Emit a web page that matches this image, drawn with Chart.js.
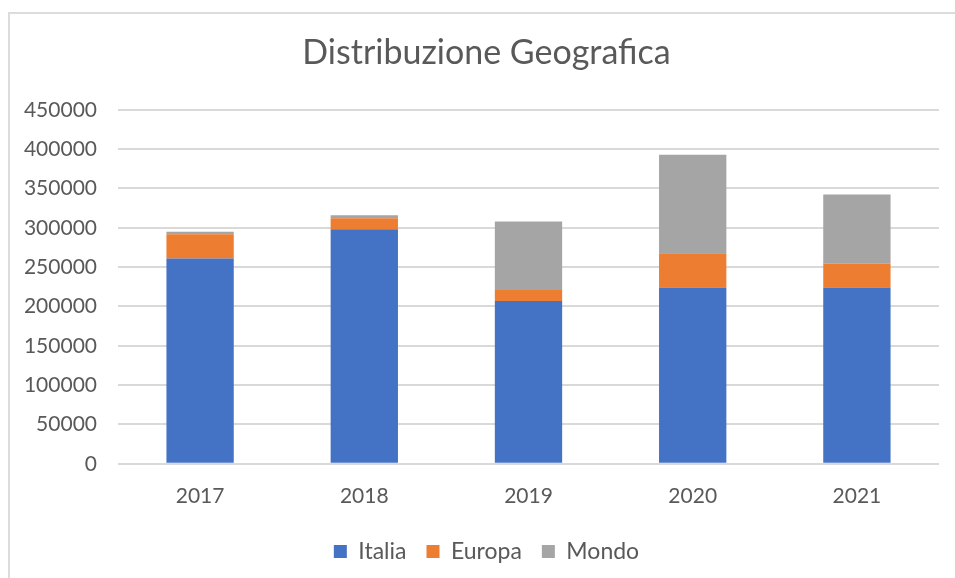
<!DOCTYPE html>
<html>
<head>
<meta charset="utf-8">
<script src="https://cdn.jsdelivr.net/npm/chart.js@4.4.1/dist/chart.umd.min.js"></script>
<style>
  html, body { margin: 0; padding: 0; background: #fff; overflow: hidden; }
  #frame { position: absolute; left: 8px; top: 12px; width: 1000px; height: 1000px; border: 2px solid #dcdcdc; }
  #chart { position: absolute; left: 0; top: 0; }
</style>
</head>
<body>
<div id="frame"></div>
<canvas id="chart" width="955" height="578"></canvas>
<script>
// Distribuzione Geografica
const years = ['2017', '2018', '2019', '2020', '2021'];
const italia = [261000, 298000, 207000, 224000, 224000];
const europa = [30700, 14000, 14000, 43500, 30300];
const mondo = [3300, 3800, 87000, 125500, 88100];
const yTicks = { min: 0, max: 450000, step: 50000 };

const textColor = '#595959';
const gridColor = '#d9d9d9';
const font = 'Lato';

new Chart(document.getElementById('chart'), {
  type: 'bar',
  data: {
    labels: years,
    datasets: [
      { label: 'Italia', data: italia, backgroundColor: '#4472c4' },
      { label: 'Europa', data: europa, backgroundColor: '#ed7d31' },
      { label: 'Mondo', data: mondo, backgroundColor: '#a5a5a5' },
    ]
  },
  options: {
    responsive: false, animation: false, devicePixelRatio: 1,
    categoryPercentage: 1, barPercentage: 0.41,
    layout: { padding: { left: 34, right: 16, top: 0, bottom: 5 } },
    plugins: {
      title: { display: true, text: 'Distribuzione Geografica', color: textColor,
        font: { family: font, size: 34, weight: 'normal' }, padding: { top: 33, bottom: 36 } },
      legend: { position: 'bottom',
        labels: { color: textColor, boxWidth: 13, boxHeight: 13, padding: 20, font: { family: font, size: 23 } } },
      tooltip: { enabled: false }
    },
    scales: {
      x: { stacked: true,
        grid: { display: false, drawTicks: false },
        border: { display: false },
        ticks: { color: textColor, padding: 20, font: { family: font, size: 21 } },
        afterFit: s => { s.height -= 9; } },
      y: { stacked: true, min: yTicks.min, max: yTicks.max,
        grid: { color: gridColor, lineWidth: 2, drawTicks: false },
        border: { display: false },
        ticks: { stepSize: yTicks.step, color: textColor, padding: 21, font: { family: font, size: 21 },
          callback: v => String(v) },
        // labels sit left of the padded area, so don't clip them
        afterFit: s => { s.width = 84; s._computeLabelArea = () => null; } }
    }
  }
});
</script>
</body>
</html>
